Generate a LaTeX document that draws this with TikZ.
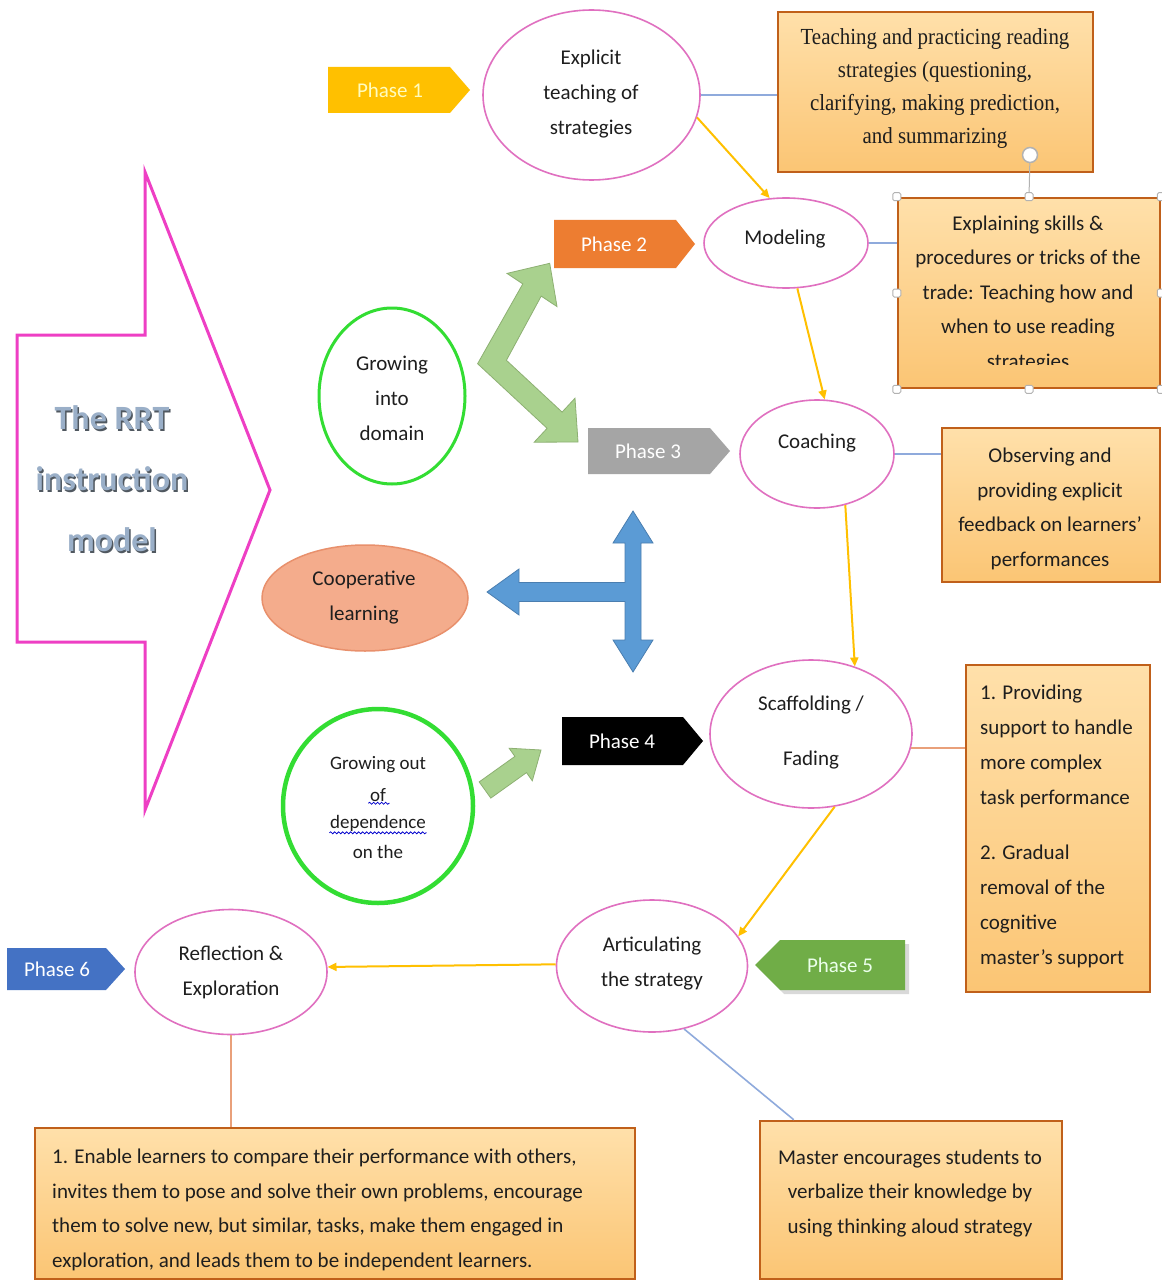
\documentclass[tikz,border=0pt]{standalone}
\usepackage{fontspec}
\setmainfont{Carlito}
\newfontfamily\serifcond{Liberation Serif}[FakeStretch=0.91]
\usetikzlibrary{arrows.meta,shapes.geometric,decorations.pathmorphing,calc}
\definecolor{pinkE}{HTML}{E070C0}
\definecolor{magA}{HTML}{EE3FC4}
\definecolor{greenC}{HTML}{33DD33}
\definecolor{boxB}{HTML}{C0601A}
\definecolor{boxTop}{HTML}{FFE0AA}
\definecolor{boxBot}{HTML}{FBC574}
\definecolor{yarrC}{HTML}{FFC000}
\definecolor{blineC}{HTML}{8FAADC}
\definecolor{olineC}{HTML}{E9A07A}
\definecolor{chevF}{HTML}{A9D18E}
\definecolor{chevD}{HTML}{8DB072}
\definecolor{crossF}{HTML}{5B9BD5}
\definecolor{crossD}{HTML}{4A7EB0}
\definecolor{coopF}{HTML}{F4AC8C}
\definecolor{coopD}{HTML}{E8906C}
\definecolor{ph1}{HTML}{FFC000}
\definecolor{ph2}{HTML}{ED7D31}
\definecolor{ph3}{HTML}{A5A5A5}
\definecolor{ph5}{HTML}{70AD47}
\definecolor{ph6}{HTML}{4472C4}
\definecolor{rrtTop}{HTML}{9AAFC8}
\definecolor{rrtSh}{HTML}{505860}
\definecolor{txt}{HTML}{1E1E1E}
\begin{document}
\begin{tikzpicture}[x=1pt,y=-1pt,
  pell/.style={ellipse, draw=pinkE, line width=1.6pt, fill=white, inner sep=0},
  gcirc/.style={ellipse, draw=greenC, fill=white, inner sep=0},
  etext/.style={font=\fontsize{21}{35}\selectfont, align=center, inner sep=0, text=txt},
  gtext/.style={font=\fontsize{19}{29}\selectfont, align=center, inner sep=0.5pt, text=txt},
  obox/.style={rectangle, draw=boxB, line width=2.5pt, top color=boxTop, bottom color=boxBot, inner sep=0},
  btext/.style={font=\fontsize{21}{34.5}\selectfont, inner sep=0, text=txt},
  ptext/.style={font=\fontsize{21}{24}\selectfont, inner sep=0},
  yarr/.style={draw=yarrC, line width=2pt, -{Triangle[length=9pt,width=8pt]}},
  bline/.style={draw=blineC, line width=1.6pt},
  oline/.style={draw=olineC, line width=1.6pt},
  handle/.style={rectangle, draw=gray!60, fill=white, line width=1pt, minimum size=8pt, inner sep=0, rounded corners=1.5pt},
  wavy/.style={draw=blue!80!black, line width=0.8pt, decorate, decoration={snake, amplitude=1pt, segment length=4pt}}
]
\useasboundingbox (0,0) rectangle (1161,1281);
\fill[white] (0,0) rectangle (1161,1281);

% big pink arrow
\draw[magA, line width=3pt, line join=miter] (17,335) -- (145,335) -- (145,172) -- (270,490) -- (145,810) -- (145,642) -- (17,642) -- cycle;
\node[font=\fontsize{34}{61}\selectfont\bfseries, align=center, inner sep=0, text=rrtSh] (rrtsh) at (113.5,480.5) {The RRT\\instruction\\model};
\node[font=\fontsize{34}{61}\selectfont\bfseries, align=center, inner sep=0, text=rrtTop] (rrt) at (112,479) {The RRT\\instruction\\model};

% phase tags
\fill[ph1] (328,67) -- (450,67) -- (470,90) -- (450,113) -- (328,113) -- cycle;
\node[ptext, text=yellow!25] (p1) at (390,90) {Phase 1};
\fill[ph2] (554,220) -- (676,220) -- (695,244) -- (676,268) -- (554,268) -- cycle;
\node[ptext, text=white] (p2) at (614,244) {Phase 2};
\fill[ph3] (588,428) -- (710,428) -- (730,451) -- (710,474) -- (588,474) -- cycle;
\node[ptext, text=white] (p3) at (648,451) {Phase 3};
\fill[black] (562,717) -- (683,717) -- (703,741) -- (683,765) -- (562,765) -- cycle;
\node[ptext, text=white] (p4) at (622,741) {Phase 4};
\fill[black!15] (909,944) -- (784,944) -- (759,969) -- (784,994) -- (909,994) -- cycle;
\fill[ph5] (905,940) -- (780,940) -- (755,965) -- (780,990) -- (905,990) -- cycle;
\node[ptext, text=green!8] (p5) at (840,965) {Phase 5};
\fill[ph6] (7,948) -- (106,948) -- (125,969) -- (106,990) -- (7,990) -- cycle;
\node[ptext, text=white] (p6) at (57,969) {Phase 6};

% green chevron double arrow
\draw[fill=chevF, draw=chevD, line width=0.8pt, line join=miter]
  (477.6,363.7) -- (522.8,283.9) -- (507.0,273.4) -- (549.7,263.3) -- (557.0,306.6) -- (541.2,296.1)
  -- (506.4,360.3) -- (562.1,412.1) -- (575.0,398.2) -- (578,442) -- (534.2,442.2) -- (547.1,428.3) -- cycle;

% small green arrow
\draw[fill=chevF, draw=chevD, line width=0.8pt, line join=miter]
  (479.2,781.9) -- (514.9,756.4) -- (509.1,748.2) -- (541,750) -- (532.3,780.8) -- (526.5,772.6) -- (490.8,798.1) -- cycle;

% blue cross arrow
\draw[fill=crossF, draw=crossD, line width=0.8pt, line join=miter]
  (487,592) -- (519,569) -- (519,582.5) -- (625,582.5) -- (625,543) -- (613,543) -- (633,511) -- (653,543)
  -- (641,543) -- (641,640) -- (653,640) -- (633,672) -- (613,640) -- (625,640) -- (625,601.5)
  -- (519,601.5) -- (519,615) -- cycle;

% ellipses
\node[pell, minimum width=217, minimum height=170] (explicit) at (591.5,95) {};
\node[etext] (texplicit) at (591,94) {Explicit\\teaching of\\strategies};
\node[pell, minimum width=164, minimum height=90] (model) at (786,243) {};
\node[etext] (tmodel) at (785,239) {Modeling};
\node[pell, minimum width=154, minimum height=108] (coach) at (817,454) {};
\node[etext] (tcoach) at (817,443) {Coaching};
\node[pell, minimum width=202, minimum height=148] (scaf) at (811,734) {};
\node[etext] (tscaf) at (811,733) {Scaffolding /\\[20pt]Fading};
\node[pell, minimum width=191, minimum height=132] (artic) at (652,966) {};
\node[etext] (tartic) at (652,964) {Articulating\\the strategy};
\node[pell, minimum width=192, minimum height=125] (reflect) at (231,972) {};
\node[etext] (treflect) at (231,972) {Reflection \&\\Exploration};

\node[gcirc, line width=3pt, minimum width=146, minimum height=176] (grow1) at (392,396) {};
\node[etext] (tgrow1) at (392,398) {Growing\\into\\domain};
\node[ellipse, draw=coopD, fill=coopF, line width=1.5pt, minimum width=206, minimum height=106, inner sep=0] (coop) at (365,598) {};
\node[etext] (tcoop) at (364,598) {Cooperative\\learning};
\node[gcirc, line width=4.5pt, minimum width=190, minimum height=194] (grow2) at (378,806) {};
\node[gtext] (g2a) at (378,765) {Growing out};
\node[gtext] (g2b) at (378,795) {of};
\node[gtext] (g2c) at (378,823) {dependence};
\node[gtext] (g2d) at (378,852) {on the};
\draw[wavy] ($(g2b.south west)+(-1,1)$) -- ($(g2b.south east)+(3,1)$);
\draw[wavy] ($(g2c.south west)+(0,1)$) -- ($(g2c.south east)+(0,1)$);

% boxes
\node[obox, minimum width=315, minimum height=160] (box1) at (935.5,92) {};
\node[font=\serifcond\fontsize{23}{33}\selectfont, align=center, inner sep=0, text=txt] (tbox1) at (935,89)
  {Teaching and practicing reading\\strategies (questioning,\\clarifying, making prediction,\\and summarizing};
\node[obox, minimum width=262, minimum height=190] (box2) at (1029,293) {};
\begin{scope}
\clip (900,200) rectangle (1158,364);
\node[btext, align=center] (tbox2) at (1028,294)
  {Explaining skills \&\\procedures or tricks of the\\trade: Teaching how and\\when to use reading\\strategies};
\end{scope}
\node[obox, minimum width=218, minimum height=154] (box3) at (1051,505) {};
\node[btext, align=center] (tbox3) at (1050,509)
  {Observing and\\providing explicit\\feedback on learners'\\performances};
\node[obox, minimum width=184, minimum height=327] (box4) at (1058,828.5) {};
\node[btext, font=\fontsize{21}{35}\selectfont, align=left, anchor=west] (tbox4) at (980,826)
  {1. Providing\\support to handle\\more complex\\task performance\\[20pt]2. Gradual\\removal of the\\cognitive\\master's support};
\node[obox, minimum width=600, minimum height=151] (box5) at (335,1203.5) {};
\node[btext, align=left, anchor=west] (tbox5) at (52,1210)
  {1. Enable learners to compare their performance with others,\\invites them to pose and solve their own problems, encourage\\them to solve new, but similar, tasks, make them engaged in\\exploration, and leads them to be independent learners.};
\node[obox, minimum width=302, minimum height=158] (box6) at (911,1200) {};
\node[btext, align=center] (tbox6) at (910,1193)
  {Master encourages students to\\verbalize their knowledge by\\using thinking aloud strategy};

% selection handles on box2
\node[circle, draw=gray!60, fill=white, line width=1.5pt, minimum size=15pt, inner sep=0] (rot) at (1030,155) {};
\draw[gray!60, line width=1pt] (rot) -- (box2.north);
\node[handle] (h1) at (box2.north west) {};
\node[handle] (h2) at (box2.north) {};
\node[handle] (h3) at (box2.north east) {};
\node[handle] (h4) at (box2.west) {};
\node[handle] (h5) at (box2.east) {};
\node[handle] (h6) at (box2.south west) {};
\node[handle] (h7) at (box2.south) {};
\node[handle] (h8) at (box2.south east) {};

% connectors
\draw[yarr] (explicit.-12) -- (model.110);
\draw[yarr] (model.-76) -- (coach.82);
\draw[yarr] (coach.-61) -- (scaf.57);
\draw[yarr] (scaf.-72) -- (artic.19);
\draw[yarr] (artic.179) -- (reflect.3);
\draw[bline] (explicit.east) -- (explicit.east -| box1.west);
\draw[bline] (model.east) -- (model.east -| box2.west);
\draw[bline] (coach.east) -- (coach.east -| box3.west);
\draw[oline] (scaf.-8) -- (scaf.-8 -| box4.west);
\draw[oline] (reflect.south) -- (reflect.south |- box5.north);
\coordinate (b6top) at ($(box6.north west)+(35,0)$);
\draw[bline] (artic.-63) -- (b6top);
\end{tikzpicture}
\end{document}
